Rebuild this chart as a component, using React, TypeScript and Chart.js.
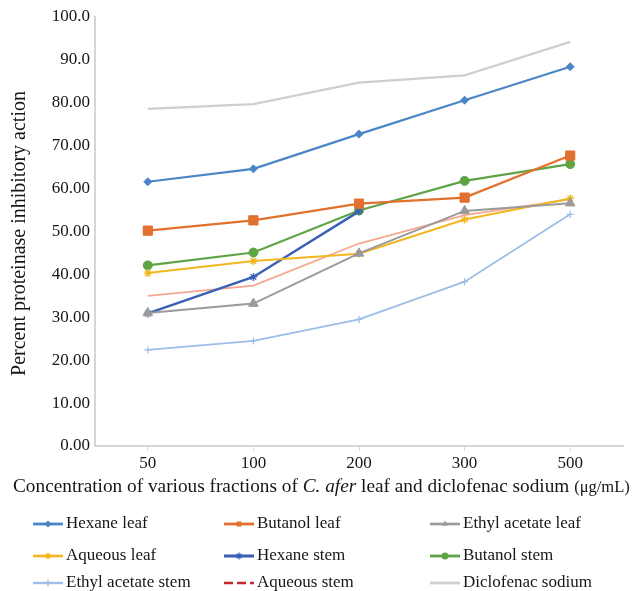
import React, { useEffect, useRef } from "react";
import { Chart, registerables } from "chart.js";

Chart.register(...registerables);

const categories = ["50", "100", "200", "300", "500"];
const yTickLabels = ["0.00", "10.00", "20.00", "30.00", "40.00", "50.00", "60.00", "70.00", "80.00", "90.0", "100.0"];

const hexaneLeaf = [61.6, 64.6, 72.7, 80.6, 88.4];
const butanolLeaf = [50.2, 52.6, 56.5, 57.9, 67.7];
const ethylAcetateLeaf = [31.0, 33.2, 44.9, 54.8, 56.6];
const aqueousLeaf = [40.3, 43.1, 44.8, 52.8, 57.7];
const hexaneStem = [30.9, 39.4, 54.7, null, null];
const butanolStem = [42.1, 45.1, 54.9, 61.8, 65.7];
const ethylAcetateStem = [22.4, 24.5, 29.5, 38.3, 54.0];
const aqueousStem = [35.0, 37.4, 47.2, 53.8, 57.5];
const diclofenacSodium = [78.6, 79.7, 84.7, 86.4, 94.2];

const seriesNames = [
  "Hexane leaf",
  "Butanol leaf",
  "Ethyl acetate leaf",
  "Aqueous leaf",
  "Hexane stem",
  "Butanol stem",
  "Ethyl acetate stem",
  "Aqueous stem",
  "Diclofenac sodium",
];

const xTitleParts = [
  { text: "Concentration of various fractions of ", style: "normal", size: 19.3 },
  { text: "C. afer", style: "italic", size: 19.3 },
  { text: " leaf and diclofenac sodium ", style: "normal", size: 19.3 },
  { text: "(\u03bcg/mL)", style: "normal", size: 16.5 },
];
const yTitle = "Percent proteinase inhibitory action";

const FONT = '"Liberation Serif", "Times New Roman", serif';
const TEXT = "#161616";

type Style = {
  color: string;
  width: number;
  marker: string;
  radius: number;
  legendColor?: string;
  legendDash?: number[];
};

const styles: Style[] = [
  { color: "#4A86C5", width: 2.2, marker: "rectRot", radius: 4 },
  { color: "#E2702F", width: 2.2, marker: "rect", radius: 6.5 },
  { color: "#9A9A9A", width: 2, marker: "triangle", radius: 5.5 },
  { color: "#F2B71E", width: 2, marker: "star", radius: 4 },
  { color: "#3A62B4", width: 2.5, marker: "star", radius: 4 },
  { color: "#5EA445", width: 2.2, marker: "circle", radius: 4.5 },
  { color: "#9DBEE6", width: 1.8, marker: "cross", radius: 3.5 },
  { color: "#F4A88F", width: 1.8, marker: "none", radius: 0, legendColor: "#C0282A", legendDash: [9, 4] },
  { color: "#CFCFCF", width: 2.2, marker: "none", radius: 0 },
];

const seriesData = [
  hexaneLeaf,
  butanolLeaf,
  ethylAcetateLeaf,
  aqueousLeaf,
  hexaneStem,
  butanolStem,
  ethylAcetateStem,
  aqueousStem,
  diclofenacSodium,
];

// legend grid layout (column x of line start, row y centre)
const legendCols = [33, 224, 430];
const legendRows = [524, 556, 583];

function drawMarker(ctx: CanvasRenderingContext2D, kind: string, x: number, y: number, r: number, color: string) {
  if (kind === "none" || r <= 0) return;
  ctx.save();
  ctx.fillStyle = color;
  ctx.strokeStyle = color;
  ctx.lineWidth = 1.2;
  ctx.beginPath();
  if (kind === "rectRot") {
    ctx.moveTo(x, y - r);
    ctx.lineTo(x + r, y);
    ctx.lineTo(x, y + r);
    ctx.lineTo(x - r, y);
    ctx.closePath();
    ctx.fill();
  } else if (kind === "rect") {
    const s = r * Math.SQRT1_2;
    ctx.rect(x - s, y - s, 2 * s, 2 * s);
    ctx.fill();
  } else if (kind === "triangle") {
    ctx.moveTo(x, y - r);
    ctx.lineTo(x + r * 0.87, y + r * 0.5);
    ctx.lineTo(x - r * 0.87, y + r * 0.5);
    ctx.closePath();
    ctx.fill();
  } else if (kind === "circle") {
    ctx.arc(x, y, r, 0, Math.PI * 2);
    ctx.fill();
  } else if (kind === "star") {
    ctx.moveTo(x - r, y);
    ctx.lineTo(x + r, y);
    ctx.moveTo(x, y - r);
    ctx.lineTo(x, y + r);
    ctx.moveTo(x - r * 0.7, y - r * 0.7);
    ctx.lineTo(x + r * 0.7, y + r * 0.7);
    ctx.moveTo(x - r * 0.7, y + r * 0.7);
    ctx.lineTo(x + r * 0.7, y - r * 0.7);
    ctx.stroke();
  } else if (kind === "cross") {
    ctx.moveTo(x - r, y);
    ctx.lineTo(x + r, y);
    ctx.moveTo(x, y - r);
    ctx.lineTo(x, y + r);
    ctx.stroke();
  }
  ctx.restore();
}

const decorPlugin = {
  id: "decor",
  afterDraw(chart: any) {
    const ctx: CanvasRenderingContext2D = chart.ctx;
    const area = chart.chartArea;
    ctx.save();
    ctx.fillStyle = TEXT;
    ctx.textBaseline = "middle";

    // y title
    ctx.save();
    ctx.translate(20, (area.top + area.bottom) / 2 + 2);
    ctx.rotate(-Math.PI / 2);
    ctx.textAlign = "center";
    ctx.font = `20px ${FONT}`;
    ctx.fillText(yTitle, 0, 0);
    ctx.restore();

    // x title with mixed fonts
    ctx.textAlign = "left";
    let x = 13;
    const ty = 487;
    for (const p of xTitleParts) {
      ctx.font = `${p.style} ${p.size}px ${FONT}`;
      ctx.fillText(p.text, x, ty + (p.size < 18 ? 1 : 0));
      x += ctx.measureText(p.text).width;
    }

    // legend grid
    ctx.font = `17px ${FONT}`;
    seriesNames.forEach((name, i) => {
      const col = i % 3;
      const row = Math.floor(i / 3);
      const lx = legendCols[col];
      const ly = legendRows[row];
      const st = styles[i];
      const lineLen = 30;
      ctx.save();
      ctx.strokeStyle = st.legendColor || st.color;
      ctx.lineWidth = st.width + 0.6;
      if (st.legendDash) ctx.setLineDash(st.legendDash);
      ctx.beginPath();
      ctx.moveTo(lx, ly);
      ctx.lineTo(lx + lineLen, ly);
      ctx.stroke();
      ctx.restore();
      drawMarker(ctx, st.marker, lx + lineLen / 2, ly, Math.min(st.radius, 3.5), st.legendColor || st.color);
      ctx.fillStyle = TEXT;
      ctx.fillText(name, lx + lineLen + 3, ly);
    });
    ctx.restore();
  },
};

export default function App() {
  const canvasRef = useRef<HTMLCanvasElement | null>(null);

  useEffect(() => {
    document.body.style.margin = "0";
    document.body.style.overflow = "hidden";
    const canvas = canvasRef.current;
    if (!canvas) return;

    const datasets = seriesNames.map((name, i) => {
      const st = styles[i];
      return {
        label: name,
        data: seriesData[i],
        borderColor: st.color,
        backgroundColor: st.color,
        borderWidth: st.width,
        pointStyle: st.marker === "none" ? false : st.marker,
        pointRadius: st.radius,
        pointBorderWidth: st.marker === "star" || st.marker === "cross" ? 1.3 : 1,
        pointBackgroundColor: st.color,
        pointBorderColor: st.color,
        tension: 0,
        spanGaps: false,
        fill: false,
      };
    });

    const chart = new Chart(canvas, {
      type: "line",
      data: { labels: categories, datasets },
      options: {
        responsive: false,
        animation: false,
        devicePixelRatio: 1,
        layout: { padding: { top: 17, right: 12, left: 0, bottom: 0 } },
        plugins: {
          legend: { display: false },
          tooltip: { enabled: false },
          title: { display: false },
        },
        scales: {
          x: {
            offset: true,
            grid: {
              offset: false,
              drawOnChartArea: false,
              drawTicks: true,
              tickLength: 5,
              color: "#D6D6D6",
            },
            border: { color: "#D6D6D6", width: 2 },
            ticks: {
              color: TEXT,
              padding: 2,
              font: { family: FONT, size: 17 },
              maxRotation: 0,
            },
            afterFit: (scale: any) => {
              scale.height = 591 - 446;
            },
          },
          y: {
            min: 0,
            max: 100,
            grid: { drawOnChartArea: false, drawTicks: false },
            border: { color: "#D6D6D6", width: 2 },
            ticks: {
              stepSize: 10,
              color: TEXT,
              padding: 5,
              font: { family: FONT, size: 17 },
              callback: (_v: any, idx: number) => yTickLabels[idx],
            },
            afterFit: (scale: any) => {
              scale.width = 95;
            },
          },
        },
      },
      plugins: [decorPlugin],
    } as any);

    return () => chart.destroy();
  }, []);

  return (
    <div style={{ width: 635, height: 591, background: "#fff" }}>
      <canvas ref={canvasRef} width={635} height={591} style={{ display: "block" }} />
    </div>
  );
}
